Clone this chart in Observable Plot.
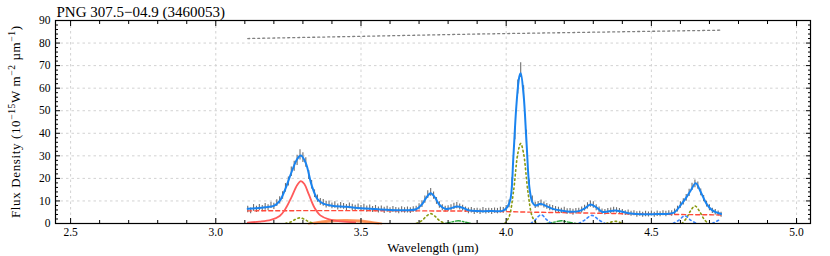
<!DOCTYPE html>
<html><head><meta charset="utf-8">
<script src="https://cdn.jsdelivr.net/npm/d3@7"></script>
<script src="https://cdn.jsdelivr.net/npm/@observablehq/plot@0.6"></script>
<style>body{margin:0;background:#fff} #chart svg{display:block}</style>
</head><body><div id="chart"></div><script>
const titleText = "PNG 307.5\u221204.9 (3460053)";
const xLabel = "Wavelength (\u00b5m)";
const yLabel = "Flux Density (10\u221215 W m\u22122 \u00b5m\u22121)";
// y label pieces: [text, superscript?]
const yLabelParts = [["Flux Density (10", false], ["\u221215", true], ["W m", false], ["\u22122", true], [" \u00b5m", false], ["\u22121", true], [")", false]];

const xMajor = [2.5, 3.0, 3.5, 4.0, 4.5, 5.0];
const xMinor = [2.6,2.7,2.8,2.9,3.1,3.2,3.3,3.4,3.6,3.7,3.8,3.9,4.1,4.2,4.3,4.4,4.6,4.7,4.8,4.9,5.0];
const yMajor = [0,10,20,30,40,50,60,70,80,90];
const yGrid = [10,20,30,40,50,60,70,80];
const yMinor = [2,4,6,8,12,14,16,18,22,24,26,28,32,34,36,38,42,44,46,48,52,54,56,58,62,64,66,68,72,74,76,78,82,84,86,88];

// observed spectrum (start 3.11 µm, step 0.01 µm)
const obsStart = 3.11, obsStep = 0.01;
const obsFlux = [
6.2,5.6,6.9,6.3,7.1,6.6,7.4,7.0,8.0,7.6,
9.0,10.3,12.4,15.8,18.6,22.9,25.4,28.0,30.4,29.2,
27.0,21.5,17.2,13.2,11.0,9.6,9.1,8.3,8.6,7.8,
8.2,7.3,7.9,7.6,7.0,7.8,7.1,6.8,7.4,6.6,
7.2,6.4,6.9,6.2,6.6,6.0,6.5,5.8,6.3,5.7,
6.2,5.9,5.6,6.1,5.8,6.0,5.7,6.2,6.4,7.4,
8.6,10.6,12.8,13.8,12.4,10.0,8.2,7.0,6.4,6.6,
7.0,7.6,7.9,7.3,6.8,6.1,5.6,5.9,5.3,5.6,
5.2,5.8,5.4,5.6,5.3,5.7,5.5,5.9,5.8,6.6,
8.7,18.0,40.0,60.5,68.0,58.0,38.5,17.0,10.5,8.0,
8.4,9.0,8.2,7.6,7.0,6.8,6.2,6.0,5.6,5.9,
5.3,5.5,5.0,5.4,5.6,6.0,6.8,7.8,8.6,8.2,
7.0,6.0,5.2,5.0,5.4,5.6,6.0,5.8,5.5,5.0,
4.6,4.8,4.3,4.5,4.0,4.3,3.9,4.2,4.0,4.4,
3.9,4.3,4.1,4.5,4.2,4.6,4.4,5.2,6.4,8.2,
9.6,11.4,13.6,16.2,17.6,16.8,13.8,11.0,8.6,7.0,
5.6,5.0,4.4,3.9];
const obsErr = [
1.4,1.3,1.5,1.4,1.3,1.4,1.5,1.3,1.4,1.4,
1.5,1.6,1.7,1.9,2.0,2.1,2.2,2.3,2.3,2.2,
2.1,2.0,1.9,1.7,1.6,1.5,1.5,1.4,1.4,1.3,
1.4,1.3,1.4,1.3,1.4,1.3,1.4,1.3,1.3,1.4,
1.3,1.4,1.3,1.3,1.4,1.3,1.3,1.4,1.3,1.3,
1.3,1.2,1.3,1.3,1.2,1.3,1.3,1.2,1.3,1.4,
1.5,1.6,1.7,1.7,1.6,1.5,1.4,1.3,1.3,1.3,
1.3,1.4,1.4,1.3,1.3,1.2,1.3,1.2,1.3,1.2,
1.2,1.3,1.2,1.2,1.3,1.2,1.2,1.3,1.3,1.4,
1.7,2.3,2.9,3.1,3.3,3.1,2.9,2.3,1.7,1.4,
1.4,1.4,1.3,1.3,1.3,1.2,1.3,1.2,1.2,1.3,
1.2,1.2,1.3,1.2,1.2,1.3,1.3,1.4,1.4,1.4,
1.3,1.3,1.2,1.2,1.2,1.3,1.2,1.2,1.2,1.2,
1.1,1.2,1.1,1.1,1.2,1.1,1.1,1.2,1.1,1.1,
1.1,1.2,1.1,1.1,1.2,1.1,1.2,1.2,1.3,1.4,
1.4,1.5,1.6,1.6,1.7,1.6,1.5,1.4,1.3,1.3,
1.2,1.2,1.1,1.1];

// total fit (blue)
const fitPts = [[3.11,6.5],[3.14,6.8],[3.17,7.2],[3.20,7.8],[3.22,10.0],[3.24,15.5],[3.26,22.5],[3.28,28.5],[3.293,30.1],[3.31,26.8],[3.33,17.0],[3.35,10.8],[3.37,8.8],[3.40,7.9],[3.45,7.4],[3.50,6.8],[3.55,6.4],[3.60,6.0],[3.65,5.9],[3.69,6.3],[3.71,8.5],[3.725,11.5],[3.74,13.4],[3.755,11.5],[3.77,8.3],[3.79,6.5],[3.81,6.8],[3.83,7.5],[3.85,7.0],[3.87,5.9],[3.90,5.5],[3.95,5.5],[3.99,5.7],[4.005,7.5],[4.015,11],[4.025,30],[4.035,52],[4.045,65],[4.05,66.6],[4.06,57],[4.07,36],[4.08,16],[4.09,9.5],[4.10,8.0],[4.12,8.7],[4.14,7.6],[4.16,6.5],[4.19,5.7],[4.22,5.2],[4.25,5.5],[4.27,6.7],[4.29,8.4],[4.31,7.2],[4.33,5.2],[4.35,5.3],[4.375,5.8],[4.40,5.2],[4.43,4.4],[4.47,4.1],[4.52,4.2],[4.56,4.3],[4.58,5.0],[4.60,8.0],[4.62,11.5],[4.635,14.5],[4.653,17.9],[4.67,14.0],[4.69,8.7],[4.71,5.8],[4.74,4.2]];
const contPts = [[3.11,5.6],[3.3,5.7],[3.5,5.7],[3.7,5.6],[3.9,5.5],[4.1,5.0],[4.3,4.6],[4.5,4.1],[4.74,3.8]];
const pah33Pts = [[3.11,0.4],[3.15,0.8],[3.19,1.6],[3.22,3.3],[3.24,6.5],[3.26,11.5],[3.28,17],[3.293,18.8],[3.305,17.5],[3.32,13],[3.34,7],[3.36,3.6],[3.39,1.8],[3.43,0.9],[3.48,0.5]];
const plateauA = [[3.32,0],[3.36,0.8],[3.40,1.4],[3.45,1.6],[3.50,1.3],[3.54,0.6],[3.57,0]];
const plateauB = [[3.34,0],[3.38,0.7],[3.43,1.1],[3.48,1.0],[3.53,0.4],[3.56,0]];
const hLine1 = [[3.24,0],[3.26,0.8],[3.275,1.9],[3.29,2.5],[3.305,1.9],[3.32,0.8],[3.34,0]];
const hLine2 = [[3.69,0],[3.71,1.3],[3.725,3.2],[3.74,4.4],[3.755,3.2],[3.77,1.3],[3.79,0]];
const hLine3 = [[3.995,0],[4.01,3],[4.025,14],[4.04,31],[4.05,35.5],[4.06,31],[4.075,14],[4.09,3],[4.105,0]];
const hLine4 = [[4.345,0],[4.36,0.6],[4.375,1.0],[4.39,0.6],[4.405,0]];
const hLine5 = [[4.605,0],[4.62,2.2],[4.635,5.6],[4.65,7.8],[4.665,5.6],[4.68,2.2],[4.695,0]];
const dLine1 = [[3.79,0],[3.81,0.6],[3.835,1.2],[3.86,0.6],[3.88,0]];
const dLine2 = [[4.14,0],[4.165,0.6],[4.19,1.2],[4.215,0.6],[4.24,0]];
const bLine1 = [[4.085,0],[4.10,1.6],[4.12,3.9],[4.14,1.6],[4.155,0]];
const bLine2 = [[4.25,0],[4.27,1.5],[4.295,3.6],[4.32,1.5],[4.34,0]];
const bLine3 = [[4.575,0],[4.595,1.5],[4.615,3.4],[4.635,1.5],[4.655,0]];
const bLine4 = [[4.71,0],[4.725,1.0],[4.74,2.0]];
const topLine = [[3.11,82.0],[3.9,84.0],[4.74,85.7]];

const obs = obsFlux.map((v, i) => ({w: +(obsStart + i * obsStep).toFixed(3), v, e: obsErr[i]}));
const tag = (arr, s) => arr.map(([w, v]) => ({w, v, s}));
const olive = [...tag(hLine1,"h1"),...tag(hLine2,"h2"),...tag(hLine3,"h3"),...tag(hLine4,"h4"),...tag(hLine5,"h5")];
const dashdot = [...tag(dLine1,"d1"),...tag(dLine2,"d2")];
const bluedot = [...tag(bLine1,"b1"),...tag(bLine2,"b2"),...tag(bLine3,"b3"),...tag(bLine4,"b4")];
const plateau = [...tag(plateauA,"a"),...tag(plateauB,"b")];

const serif = "'Liberation Serif', 'Times New Roman', serif";
const noLabel = () => "";

const chart = Plot.plot({
  width: 830, height: 256,
  marginLeft: 55, marginRight: 20, marginTop: 20, marginBottom: 33,
  x: {domain: [2.448, 5.048], axis: null},
  y: {domain: [0, 90], axis: null},
  style: {fontFamily: serif, fontSize: "11px", background: "white", color: "black"},
  marks: [
    Plot.gridX(xMajor, {stroke: "#d2d2d2", strokeOpacity: 1, strokeDasharray: "2.5,3"}),
    Plot.gridY(yGrid, {stroke: "#d2d2d2", strokeOpacity: 1, strokeDasharray: "2.5,3"}),
    Plot.line(topLine.map(([w, v]) => ({w, v})), {x: "w", y: "v", stroke: "#808080", strokeWidth: 1.3, strokeDasharray: "2,3"}),
    Plot.ruleX(obs, {x: "w", y1: d => d.v - d.e, y2: d => d.v + d.e, stroke: "#6e6e6e", strokeWidth: 1.1}),
    Plot.line(tag(contPts, "c"), {x: "w", y: "v", stroke: "#ff4a3a", strokeWidth: 1.4, strokeDasharray: "4,3"}),
    Plot.line(plateau, {x: "w", y: "v", z: "s", stroke: "#ff8a4a", strokeWidth: 2, strokeOpacity: 0.85, curve: "catmull-rom"}),
    Plot.line(tag(pah33Pts, "p"), {x: "w", y: "v", stroke: "#ff5a5a", strokeWidth: 1.8, curve: "catmull-rom"}),
    Plot.line(olive, {x: "w", y: "v", z: "s", stroke: "#8a9a10", strokeWidth: 1.6, strokeDasharray: "1.5,3", curve: "catmull-rom", clip: true}),
    Plot.line(dashdot, {x: "w", y: "v", z: "s", stroke: "#2aa83a", strokeWidth: 1.4, strokeDasharray: "5,2,1.5,2", curve: "catmull-rom", clip: true}),
    Plot.line(bluedot, {x: "w", y: "v", z: "s", stroke: "#3a86ff", strokeWidth: 1.6, strokeDasharray: "2,3", curve: "catmull-rom", clip: true}),
    Plot.line(tag(fitPts, "f"), {x: "w", y: "v", stroke: "#1a84f0", strokeWidth: 2, curve: "catmull-rom"}),
    Plot.axisX(xMajor, {anchor: "bottom", tickSize: -5, tickPadding: 9, tickFormat: d3.format(".1f"), label: null, fontSize: 11.5}),
    Plot.axisX(xMinor, {anchor: "bottom", tickSize: -3, tickFormat: noLabel, label: null}),
    Plot.axisX(xMajor, {anchor: "top", tickSize: -5, tickFormat: noLabel, label: null}),
    Plot.axisX(xMinor, {anchor: "top", tickSize: -3, tickFormat: noLabel, label: null}),
    Plot.axisY(yMajor, {anchor: "left", tickSize: -5, tickPadding: 10, tickFormat: d3.format("d"), label: null, fontSize: 11.5}),
    Plot.axisY(yMinor, {anchor: "left", tickSize: -3, tickFormat: noLabel, label: null}),
    Plot.axisY(yMajor, {anchor: "right", tickSize: -5, tickFormat: noLabel, label: null}),
    Plot.axisY(yMinor, {anchor: "right", tickSize: -3, tickFormat: noLabel, label: null}),
    Plot.frame({stroke: "black", strokeWidth: 1.2}),
    Plot.text([titleText], {frameAnchor: "top-left", textAnchor: "start", lineAnchor: "middle", dx: 1, dy: -8, fontSize: 15, fill: "black"}),
    Plot.text([xLabel], {frameAnchor: "bottom", textAnchor: "middle", lineAnchor: "middle", dy: 24, fontSize: 13, fill: "black"}),
    Plot.text([yLabel], {frameAnchor: "left", textAnchor: "middle", lineAnchor: "middle", rotate: -90, dx: -40, fontSize: 13, fill: "black"})
  ]
});
// render the unit exponents of the y label as real superscripts
for (const t of chart.querySelectorAll("text")) {
  if (t.textContent === yLabel) {
    t.textContent = "";
    let up = false;
    for (const [str, sup] of yLabelParts) {
      const ts = document.createElementNS("http://www.w3.org/2000/svg", "tspan");
      ts.textContent = str;
      if (sup && !up) { ts.setAttribute("dy", "-5"); up = true; }
      else if (!sup && up) { ts.setAttribute("dy", "5"); up = false; }
      if (sup) ts.setAttribute("font-size", "9.5");
      t.appendChild(ts);
    }
    t.setAttribute("textLength", "192");
    t.setAttribute("lengthAdjust", "spacing");
  }
}
document.getElementById("chart").appendChild(chart);
</script></body></html>
